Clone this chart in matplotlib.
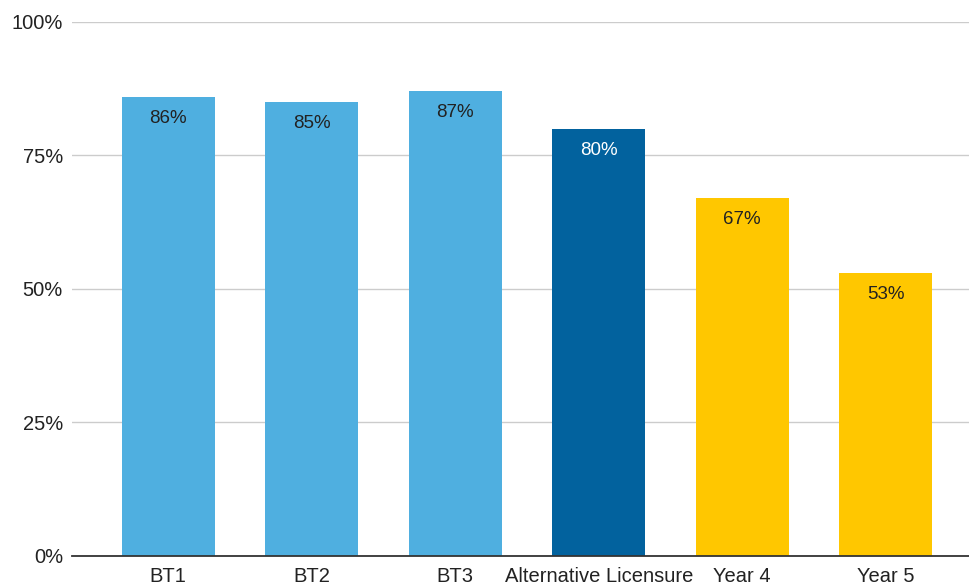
import matplotlib
matplotlib.use("Agg")
import matplotlib.pyplot as plt
from matplotlib.ticker import PercentFormatter

plt.rcParams['font.family'] = ['Liberation Sans', 'DejaVu Sans']

# 数据
categories = ["BT1", "BT2", "BT3", "Alternative Licensure", "Year 4", "Year 5"]
values = [86, 85, 87, 80, 67, 53]
colors = ["#4FAFE0", "#4FAFE0", "#4FAFE0", "#02629E", "#FFC700", "#FFC700"]
label_colors = ["#222222", "#222222", "#222222", "white", "#222222", "#222222"]

fig = plt.figure(figsize=(9.69, 5.86), dpi=100)
ax = fig.add_axes([0.0743, 0.0512, 0.9257, 0.9113])

xs = range(len(categories))
bars = ax.bar(xs, values, width=0.65, color=colors, zorder=3)

for b, v, c in zip(bars, values, label_colors):
    ax.text(b.get_x() + b.get_width() / 2, v - 2.4, "%d%%" % v,
            ha="center", va="top", fontsize=13.5, color=c, zorder=4)

ax.set_ylim(0, 100)
ax.set_xlim(-0.67, 5.58)
ax.set_yticks([0, 25, 50, 75, 100])
ax.yaxis.set_major_formatter(PercentFormatter(decimals=0))
ax.set_xticks(list(xs))
ax.set_xticklabels(categories)
ax.tick_params(axis="both", length=0, labelsize=14.5, colors="#222222")
ax.tick_params(axis="y", pad=6.5)
ax.tick_params(axis="x", pad=8)

ax.grid(axis="y", color="#CCCCCC", linewidth=1, zorder=0)
for s in ["top", "right", "left"]:
    ax.spines[s].set_visible(False)
ax.spines["bottom"].set_color("#333333")
ax.spines["bottom"].set_linewidth(1.3)
ax.spines["bottom"].set_zorder(5)

fig.savefig("out.png", dpi=100)
